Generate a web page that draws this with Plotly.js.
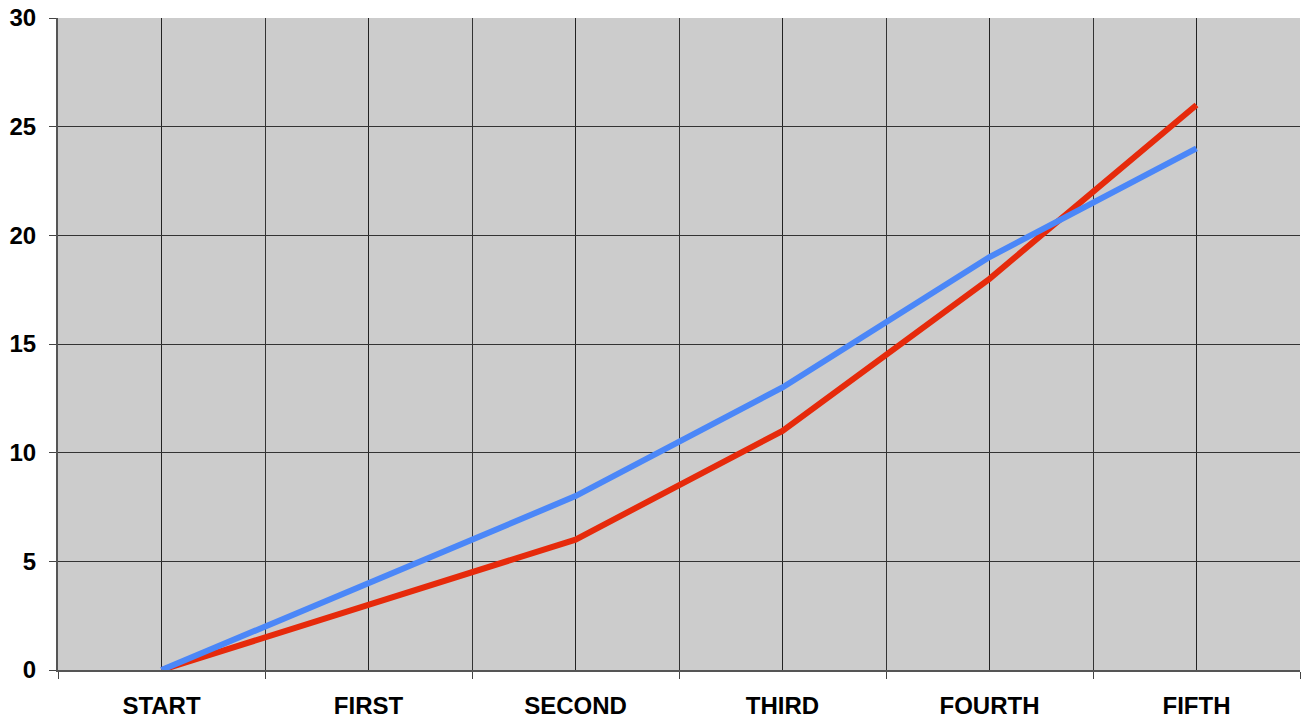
<!DOCTYPE html>
<html>
<head>
<meta charset="utf-8">
<script src="https://cdn.plot.ly/plotly-3.0.1.min.js"></script>
<style>html,body{margin:0;padding:0;background:#fff;}#chart{width:1302px;height:721px;}</style>
</head>
<body>
<div id="chart"></div>
<script>
var categories = ["START", "FIRST", "SECOND", "THIRD", "FOURTH", "FIFTH"];
var redValues = [0, 3, 6, 11, 18, 26];
var blueValues = [0, 4, 8, 13, 19, 24];

var xIdx = categories.map(function (c, i) { return i; });
var halfTicks = [];
for (var i = 0; i <= categories.length; i++) halfTicks.push(i - 0.5);

var traces = [
  {x: xIdx, y: redValues, type: "scatter", mode: "lines", name: "Red",
   line: {color: "#e62a0b", width: 6}, hoverinfo: "x+y"},
  {x: xIdx, y: blueValues, type: "scatter", mode: "lines", name: "Blue",
   line: {color: "#4b87f8", width: 6}, hoverinfo: "x+y"}
];

var layout = {
  width: 1302, height: 721,
  margin: {l: 58, r: 2, t: 18, b: 51},
  paper_bgcolor: "#ffffff",
  plot_bgcolor: "#cccccc",
  showlegend: false,
  font: {family: "Liberation Sans, Arial, sans-serif", size: 24, color: "#000"},
  xaxis: {
    type: "linear",
    range: [-0.5, categories.length - 0.5],
    tickmode: "array",
    tickvals: xIdx,
    ticktext: categories.map(function (c) { return "<b>" + c + "</b>"; }),
    ticks: "",
    showgrid: true, gridcolor: "#222", gridwidth: 1,
    minor: {tickmode: "array", tickvals: halfTicks, ticks: "outside", ticklen: 7,
            tickcolor: "#444", tickwidth: 1, showgrid: true, gridcolor: "#333", gridwidth: 1},
    showline: true, linecolor: "#555", linewidth: 2,
    zeroline: false,
    ticklabelstandoff: 13,
    tickfont: {size: 24, family: "Liberation Sans, Arial, sans-serif", color: "#000"},
    fixedrange: true
  },
  yaxis: {
    range: [0, 30],
    tickmode: "linear", tick0: 0, dtick: 5,
    ticks: "outside", ticklen: 7, tickcolor: "#444", tickwidth: 1,
    showgrid: true, gridcolor: "#333", gridwidth: 1,
    showline: true, linecolor: "#555", linewidth: 2,
    zeroline: false,
    ticklabelstandoff: 8,
    tickprefix: "<b>", ticksuffix: "</b>",
    tickfont: {size: 24, family: "Liberation Sans, Arial, sans-serif", color: "#000"},
    fixedrange: true
  }
};

Plotly.newPlot("chart", traces, layout, {displayModeBar: false, staticPlot: true});
</script>
</body>
</html>
